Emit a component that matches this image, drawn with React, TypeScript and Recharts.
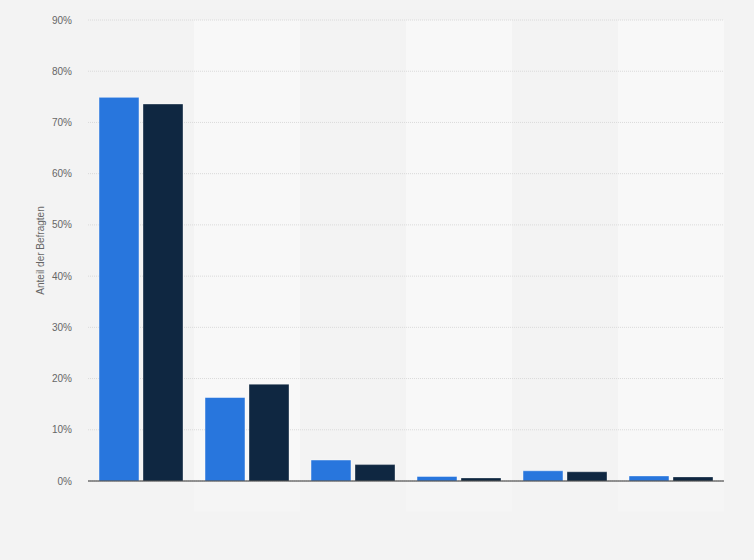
import { BarChart, Bar, XAxis, YAxis, CartesianGrid, ReferenceArea, Label } from "recharts";

// categories are not labelled in the source chart
const categories = ["A", "B", "C", "D", "E", "F"];
const seriesBlue = [74.9, 16.3, 4.1, 0.9, 2.0, 1.0];
const seriesDark = [73.6, 18.9, 3.2, 0.6, 1.8, 0.8];
const yTicks = [0, 10, 20, 30, 40, 50, 60, 70, 80, 90];
// alternate column bands, every second one lighter
const stripedCategories = ["B", "D", "F"];

const data = categories.map((name, i) => ({
  name,
  blue: seriesBlue[i],
  dark: seriesDark[i],
}));

const font = "Liberation Sans, Arial, sans-serif";

export default function App() {
  return (
    <div style={{ width: 754, height: 560, background: "#f3f3f3" }}>
      <style>{"body{margin:0}"}</style>
      <BarChart
        width={754}
        height={560}
        data={data}
        margin={{ top: 20, right: 30, left: 0, bottom: 48 }}
        barCategoryGap={11}
        barGap={4}
      >
        {/* light bands: plot part and the fainter part under the axis */}
        {stripedCategories.map((c) => (
          <ReferenceArea
            key={c}
            x1={c}
            x2={c}
            y1={0}
            y2={90}
            ifOverflow="visible"
            fill="#ffffff"
            fillOpacity={0.45}
            stroke="none"
            zIndex={-200}
          />
        ))}
        {stripedCategories.map((c) => (
          <ReferenceArea
            key={"low" + c}
            x1={c}
            x2={c}
            y1={-6}
            y2={0}
            ifOverflow="visible"
            fill="#ffffff"
            fillOpacity={0.2}
            stroke="none"
            zIndex={-200}
          />
        ))}
        <CartesianGrid vertical={false} stroke="#dadada" strokeDasharray="1 1" />
        <XAxis
          dataKey="name"
          tick={false}
          tickLine={false}
          height={31}
          axisLine={{ stroke: "#333333", strokeWidth: 1 }}
        />
        <YAxis
          width={88}
          domain={[0, 90]}
          ticks={yTicks}
          interval={0}
          axisLine={false}
          tickLine={false}
          tickMargin={10}
          tickFormatter={(v) => `${v}%`}
          tick={{ fill: "#666666", fontSize: 10, fontFamily: font }}
        >
          <Label
            value="Anteil der Befragten"
            angle={-90}
            position="insideLeft"
            offset={40}
            style={{ textAnchor: "middle", fill: "#666666", fontSize: 10, fontFamily: font }}
          />
        </YAxis>
        <Bar dataKey="blue" fill="#2876dd" stroke="rgba(255,255,255,0.45)" isAnimationActive={false} />
        <Bar dataKey="dark" fill="#0f2741" stroke="rgba(255,255,255,0.35)" isAnimationActive={false} />
      </BarChart>
    </div>
  );
}
